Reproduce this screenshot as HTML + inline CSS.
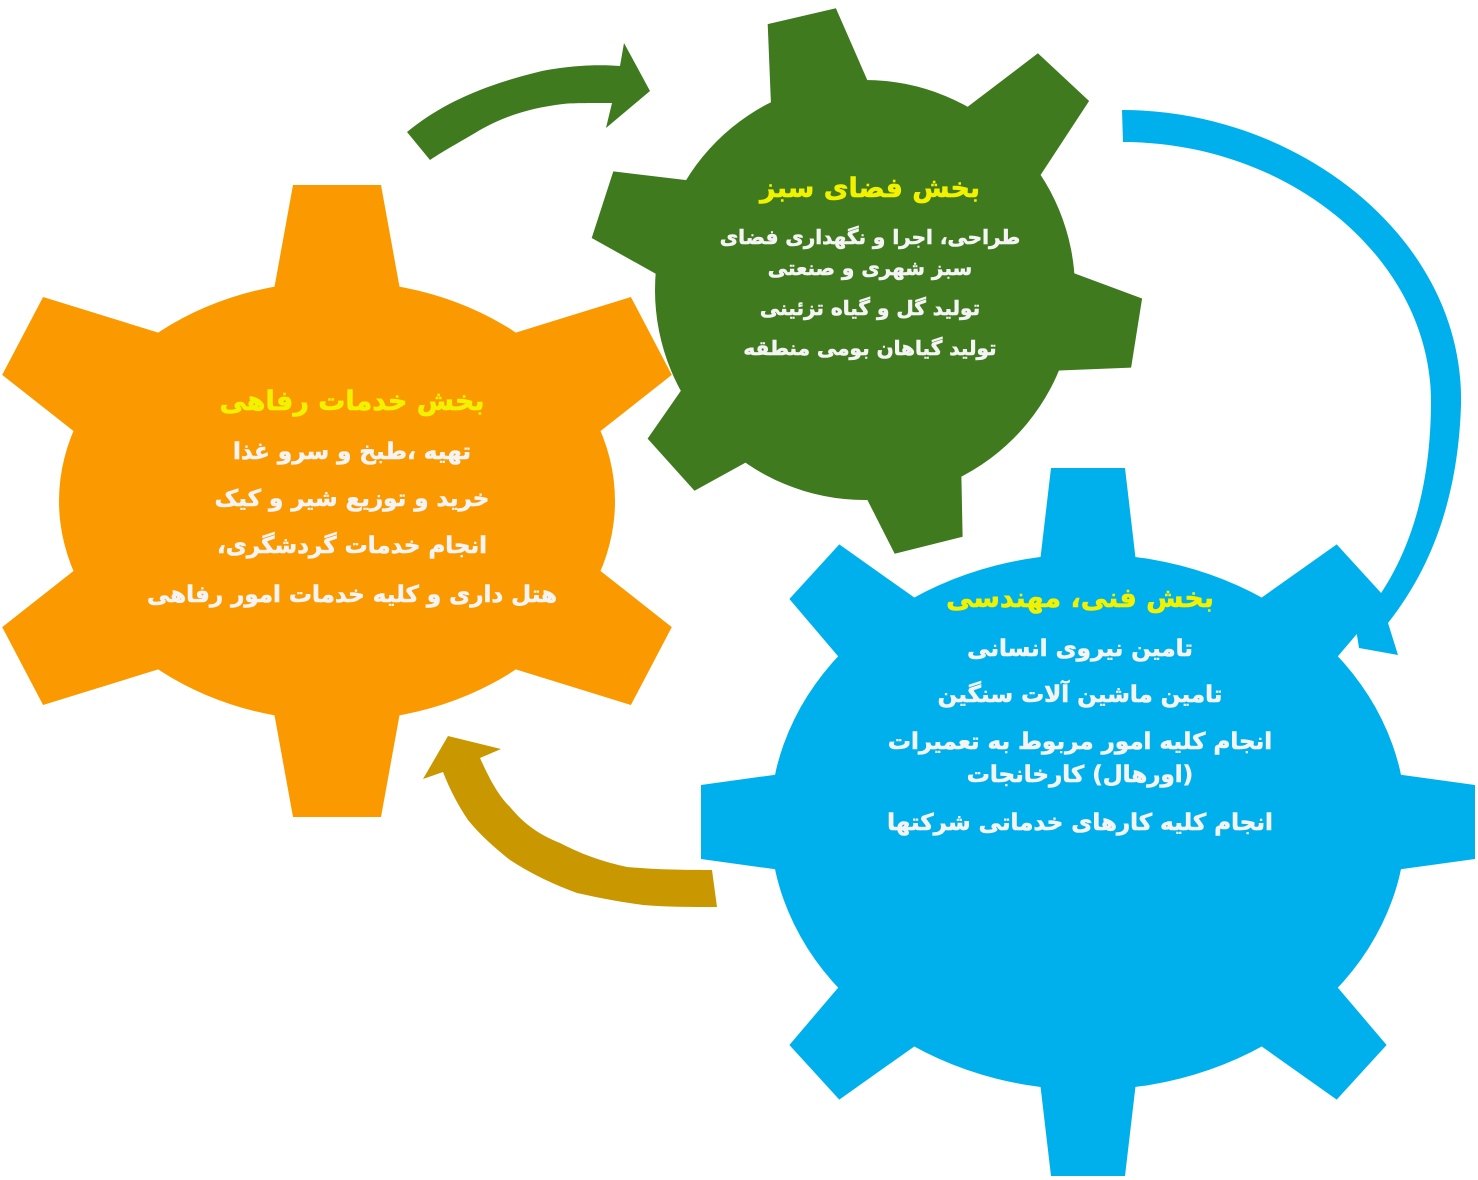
<!DOCTYPE html>
<html><head><meta charset="utf-8">
<style>
html,body{margin:0;padding:0;background:#fff;}
#wrap{position:relative;width:1478px;height:1180px;overflow:hidden;background:#fff;}
svg{position:absolute;left:0;top:0;}
.t{position:absolute;direction:rtl;text-align:center;font-family:"DejaVu Sans",sans-serif;font-weight:bold;white-space:nowrap;color:#f4f4f4;line-height:1;-webkit-text-stroke:0.6px #f4f4f4;}
.h{color:#f2f200;-webkit-text-stroke:0.6px #f2f200;}
</style></head><body>
<div id="wrap">
<svg id="s" width="1478" height="1180" viewBox="0 0 1478 1180">
<path d="M407,132 C440,105 480,86 542,71 C580,64 605,65 620,66 L624,43 L650,91 L606,128 L612,103 C590,103 570,103 563,104 C530,108 505,116 480,130 C460,142 445,150 430,160 Z" fill="#3f7a1f"/>
<path d="M1122,110 C1300,110 1465,240 1461,405 C1458,500 1430,570 1388,623 L1398,655 L1359,648 L1352,603 L1366,614 C1405,565 1430,500 1431,405 C1433,260 1290,142 1123,142 Z" fill="#00b0ec"/>
<path d="M448,736 L501,749 L480,758 C490,780 498,795 510,807 C525,825 540,835 560,843 C585,856 605,862 627,867 C660,870 690,870 712,870 L717,907 C690,907 665,907 643,905 C620,902 600,898 577,893 C550,883 530,873 510,860 C495,848 480,835 468,820 C458,805 450,790 443,772 L423,779 Z" fill="#c99700"/>
<g id="gears"></g>
</svg>

<div class="t h" style="left:142px;top:388px;width:420px;font-size:27px;">بخش خدمات رفاهی</div>
<div class="t" style="left:152px;top:441px;width:400px;font-size:23px;">تهیه ،طبخ و سرو غذا</div>
<div class="t" style="left:152px;top:488px;width:400px;font-size:23px;">خرید و توزیع شیر و کیک</div>
<div class="t" style="left:152px;top:535px;width:400px;font-size:23px;">انجام خدمات گردشگری،</div>
<div class="t" style="left:132px;top:584px;width:440px;font-size:23px;">هتل داری و کلیه خدمات امور رفاهی</div>

<div class="t h" style="left:720px;top:175px;width:300px;font-size:27px;">بخش فضای سبز</div>
<div class="t" style="left:700px;top:227px;width:340px;font-size:20px;">طراحی، اجرا و نگهداری فضای</div>
<div class="t" style="left:700px;top:258px;width:340px;font-size:20px;">سبز شهری و صنعتی</div>
<div class="t" style="left:700px;top:298px;width:340px;font-size:20px;">تولید گل و گیاه تزئینی</div>
<div class="t" style="left:700px;top:338px;width:340px;font-size:20px;">تولید گیاهان بومی منطقه</div>

<div class="t h" style="left:930px;top:585px;width:300px;font-size:27px;">بخش فنی، مهندسی</div>
<div class="t" style="left:880px;top:638px;width:400px;font-size:23px;">تامین نیروی انسانی</div>
<div class="t" style="left:880px;top:684px;width:400px;font-size:23px;">تامین ماشین آلات سنگین</div>
<div class="t" style="left:860px;top:731px;width:440px;font-size:23px;">انجام کلیه امور مربوط به تعمیرات</div>
<div class="t" style="left:880px;top:764px;width:400px;font-size:23px;">(اورهال) کارخانجات</div>
<div class="t" style="left:860px;top:812px;width:440px;font-size:23px;">انجام کلیه کارهای خدماتی شرکتها</div>
</div>
<script>
(function(){
var g=document.getElementById('gears');var NS='http://www.w3.org/2000/svg';
function el(n,a){var e=document.createElementNS(NS,n);for(var k in a)e.setAttribute(k,a[k]);g.appendChild(e);return e;}
function tooth(cx,cy,a,Ro,Rb,wt,wb,col){var r=a*Math.PI/180,dx=Math.cos(r),dy=Math.sin(r),px=-dy,py=dx;
var p=[[cx+dx*Rb+px*wb,cy+dy*Rb+py*wb],[cx+dx*Ro+px*wt,cy+dy*Ro+py*wt],[cx+dx*Ro-px*wt,cy+dy*Ro-py*wt],[cx+dx*Rb-px*wb,cy+dy*Rb-py*wb]];
el('polygon',{points:p.map(function(q){return q[0].toFixed(1)+','+q[1].toFixed(1)}).join(' '),fill:col});}
function ed(rx,ry,a){var r=a*Math.PI/180,c=Math.cos(r),s=Math.sin(r);return 1/Math.sqrt(c*c/(rx*rx)+s*s/(ry*ry));}
var oc='#fb9a00';el('ellipse',{cx:337,cy:501,rx:278,ry:220,fill:oc});
[[-90,316],[90,316],[-152.3,355],[152.3,355],[-27.7,355],[27.7,355]].forEach(function(t){tooth(337,501,t[0],t[1],ed(278,220,t[0])-25,44,66,oc);});
var gc='#3f7a1f';el('circle',{cx:865,cy:290,r:210,fill:gc});
[[-103,281],[-47,291],[9,275],[76,263],[138,261],[198,276]].forEach(function(t){tooth(865,290,t[0],t[1],180,35,54,gc);});
var bc='#00b0ec';el('ellipse',{cx:1088,cy:822,rx:318,ry:268,fill:bc});
for(var i=0;i<8;i++){var t=i*45*Math.PI/180;var x=387*Math.cos(t),y=-354*Math.sin(t);var a=Math.atan2(y,x)*180/Math.PI;var Ro=Math.sqrt(x*x+y*y);
tooth(1088,822,a,Ro,ed(318,268,a)-25,37,50,bc);}
})();
</script>
</body></html>
